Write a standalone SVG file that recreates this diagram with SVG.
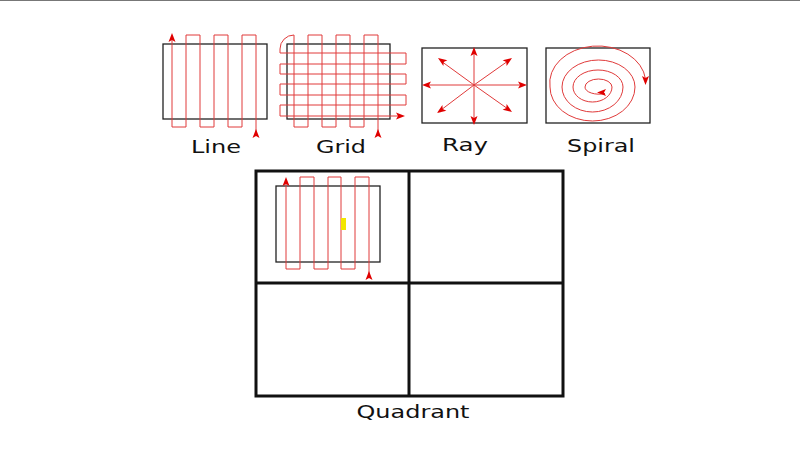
<svg xmlns="http://www.w3.org/2000/svg" xmlns:xlink="http://www.w3.org/1999/xlink" width="800" height="450" viewBox="0 0 800 450">
  <style>
    .box { fill: none; stroke: #222; stroke-width: 1.3; }
    .path { fill: none; stroke: #e03a3a; stroke-width: 1; stroke-linejoin: miter; }
    .quad { fill: none; stroke: #111; stroke-width: 3; }
    .label { font-family: "DejaVu Sans", "Liberation Sans", sans-serif; font-size: 18px; fill: #111; text-anchor: middle; }
  </style>
  <defs>
    <path id="ah" d="M0,0 L3.5,9 L0,7 L-3.5,9 Z" fill="#e00000"/>
  </defs>
  <rect width="800" height="450" fill="#ffffff"/>
  <line x1="0" y1="0.5" x2="800" y2="0.5" stroke="#777" stroke-width="1"/>

  <g id="line-pattern">
    <rect class="box" x="163" y="44" width="104" height="75"/>
    <path class="path" d="M256,136 L256,35 L242,35 L242,127 L228,127 L228,35 L214,35 L214,127 L200,127 L200,35 L186,35 L186,127 L172,127 L172,38"/>
    <use xlink:href="#ah" transform="translate(172,33)"/>
    <use xlink:href="#ah" transform="translate(256,129)"/>
    <text class="label" x="216" y="153" textLength="50" lengthAdjust="spacingAndGlyphs">Line</text>
  </g>

  <g id="grid-pattern">
    <rect class="box" x="287" y="44" width="103" height="75"/>
    <path class="path" d="M378,136 L378,35 L364,35 L364,127 L350,127 L350,35 L336,35 L336,127 L322,127 L322,35 L308,35 L308,127 L294,127 L294,35 A14,14 0 0 0 280,49 L280,53 L406,53 L406,64 L280,64 L280,74 L406,74 L406,84 L280,84 L280,95 L406,95 L406,105 L280,105 L280,116 L398,116"/>
    <use xlink:href="#ah" transform="translate(378,129)"/>
    <use xlink:href="#ah" transform="translate(405,116) rotate(90)"/>
    <text class="label" x="341" y="153" textLength="50" lengthAdjust="spacingAndGlyphs">Grid</text>
  </g>

  <g id="ray-pattern">
    <rect class="box" x="422" y="48" width="105" height="75"/>
    <path class="path" d="M474,85 L474,52 M474,85 L474,120 M474,85 L427,85 M474,85 L522,85 M474,85 L441,61 M474,85 L508,61 M474,85 L441,110 M474,85 L508,109"/>
    <use xlink:href="#ah" transform="translate(474,47)"/>
    <use xlink:href="#ah" transform="translate(474,125) rotate(180)"/>
    <use xlink:href="#ah" transform="translate(422,85) rotate(-90)"/>
    <use xlink:href="#ah" transform="translate(527,85) rotate(90)"/>
    <use xlink:href="#ah" transform="translate(438,58) rotate(-55)"/>
    <use xlink:href="#ah" transform="translate(512,58) rotate(55)"/>
    <use xlink:href="#ah" transform="translate(437,113) rotate(-125)"/>
    <use xlink:href="#ah" transform="translate(512,112) rotate(125)"/>
    <text class="label" x="465" y="151" textLength="46" lengthAdjust="spacingAndGlyphs">Ray</text>
  </g>

  <g id="spiral-pattern">
    <rect class="box" x="546" y="48" width="104" height="75"/>
    <path class="path" d="M605,93.5 A14,7 0 0 1 585,87 A13.5,8 0 0 1 612,87 A19.5,15 0 0 1 573,87 A25,17 0 0 1 623,87 A30.5,25 0 0 1 562,87 A36.5,27 0 0 1 635,87 A42.5,34 0 0 1 550,87 A48,37 0 0 1 645.5,79"/>
    <use xlink:href="#ah" transform="translate(645.5,85) rotate(180)"/>
    <use xlink:href="#ah" transform="translate(597,92.5) rotate(-90)"/>
    <text class="label" x="601" y="152" textLength="68" lengthAdjust="spacingAndGlyphs">Spiral</text>
  </g>

  <g id="quadrant">
    <rect class="quad" x="256" y="171" width="307" height="225"/>
    <line class="quad" x1="409" y1="171" x2="409" y2="396"/>
    <line class="quad" x1="256" y1="283" x2="563" y2="283"/>
    <rect class="box" x="276" y="186" width="104" height="76"/>
    <path class="path" d="M369,278 L369,177 L355,177 L355,269 L341,269 L341,177 L328,177 L328,269 L314,269 L314,177 L300,177 L300,269 L286,269 L286,182"/>
    <use xlink:href="#ah" transform="translate(286,177)"/>
    <use xlink:href="#ah" transform="translate(369,271)"/>
    <rect x="341" y="218" width="5" height="12" fill="#f2e600"/>
    <text class="label" x="413" y="418" textLength="113" lengthAdjust="spacingAndGlyphs">Quadrant</text>
  </g>

  <g id="connectors"></g>
</svg>
